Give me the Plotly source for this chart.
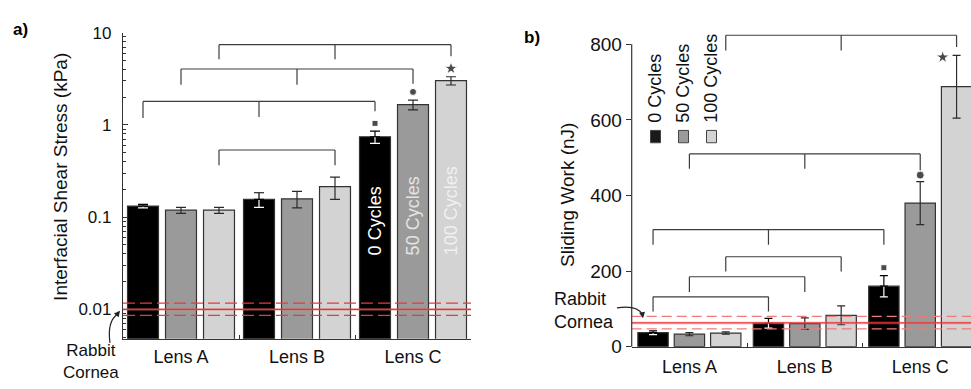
import math
import plotly.graph_objects as go

W, H = 971, 389

# ---------------- data ----------------
categories = ["Lens A", "Lens B", "Lens C"]
series_names = ["0 Cycles", "50 Cycles", "100 Cycles"]

shear_0 = [0.132, 0.156, 0.745]
shear_50 = [0.119, 0.158, 1.66]
shear_100 = [0.119, 0.214, 3.02]
shear_err_0 = [0.006, 0.028, 0.114]
shear_err_50 = [0.009, 0.032, 0.20]
shear_err_100 = [0.009, 0.058, 0.31]

work_0 = [37, 62, 160]
work_50 = [33, 61, 380]
work_100 = [36, 83, 688]
work_err_0 = [5, 13, 28]
work_err_50 = [4, 15, 57]
work_err_100 = [3, 25, 83]

cornea_shear = 0.010
cornea_shear_low = 0.0086
cornea_shear_high = 0.0117
cornea_work = 63
cornea_work_low = 47
cornea_work_high = 80

shear_ticks = [0.01, 0.1, 1, 10]
shear_tick_text = ["0.01", "0.1", "1", "10"]
work_ticks = [0, 200, 400, 600, 800]

# significance brackets: (series index, groups joined, bracket top, leg ends)
shear_brackets = [
    (0, [0, 1, 2], 1.80, [1.19, 1.22, 1.41]),
    (1, [0, 1, 2], 4.04, [2.73, 2.73, 2.79]),
    (2, [0, 1, 2], 7.41, [5.16, 5.16, 5.54]),
    (2, [0, 1], 0.535, [0.366, 0.366]),
]
work_brackets = [
    (2, [0, 1, 2], 824, [784, 784, 793]),
    (1, [0, 1, 2], 510, [471, 471, 467]),
    (0, [0, 1, 2], 310, [270, 270, 270]),
    (2, [0, 1], 238, [199, 199]),
    (1, [0, 1], 185, [145, 145]),
    (0, [0, 1], 132, [93, 93]),
]
shear_marks_y = [1.04, 2.28, 4.1]
work_marks_y = [209, 454, 766]
mark_symbols = ["square", "circle", "star"]

# ---------------- style ----------------
FONT = "Liberation Sans, Arial, Helvetica, sans-serif"
fills = ["#000000", "#9a9a9a", "#d3d3d3"]
edge = "#333333"
bracket_col = "#3c3c3c"
red = "#e8322f"


def fx(p):
    return p / W


def fy(p):
    return 1 - p / H


# panel geometry (pixels)
A_L, A_R, A_B, A_T = 123, 471, 347.7, 25
B_L, B_R, B_B, B_T = 631.7, 971, 356, 23.3
A_SLOT, A_BW = 0.3276, 0.267
B_SLOT, B_BW = 0.315, 0.263
B_XMAX = 2.44
B_YMAX = 835

shear_vals = [shear_0, shear_50, shear_100]
shear_errs = [shear_err_0, shear_err_50, shear_err_100]
work_vals = [work_0, work_50, work_100]
work_errs = [work_err_0, work_err_50, work_err_100]

fig = go.Figure()


def add_panel(vals, errs, xa, ya, xo, slot, bw, capw):
    for j in range(3):
        fig.add_trace(go.Bar(
            x=categories, y=vals[j], name=series_names[j],
            offset=(j - 1) * slot - bw / 2, width=bw,
            marker=dict(color=fills[j], line=dict(color=edge, width=1.2)),
            error_y=dict(type="data", array=errs[j], visible=True,
                         color="#ffffff" if j == 0 else "#2a2a2a",
                         thickness=1.2, width=capw),
            xaxis=xa, yaxis=ya, showlegend=False, hoverinfo="skip"))
    # upper half of the error bar for the black bars in black
    fig.add_trace(go.Scatter(
        x=[i + (0 - 1) * slot for i in range(3)], y=vals[0], mode="markers",
        marker=dict(size=1, color="rgba(0,0,0,0)"),
        error_y=dict(type="data", symmetric=False, array=errs[0],
                     arrayminus=[0] * 3, color="#000000", thickness=1.2, width=capw),
        xaxis=xo, yaxis=ya, showlegend=False, hoverinfo="skip"))


add_panel(shear_vals, shear_errs, "x", "y", "x3", A_SLOT, A_BW, 5)
add_panel(work_vals, work_errs, "x2", "y2", "x4", B_SLOT, B_BW, 4)

# significance markers
fig.add_trace(go.Scatter(
    x=[2 + (j - 1) * A_SLOT for j in range(3)], y=shear_marks_y, mode="markers",
    marker=dict(symbol=mark_symbols, size=[6, 7, 10], color="#000000"),
    xaxis="x3", yaxis="y", showlegend=False, hoverinfo="skip", cliponaxis=False))
work_mark_dx = [0, 0, -0.12]
fig.add_trace(go.Scatter(
    x=[2 + (j - 1) * B_SLOT + work_mark_dx[j] for j in range(3)], y=work_marks_y,
    mode="markers",
    marker=dict(symbol=mark_symbols, size=[6, 8, 10], color="#000000"),
    xaxis="x4", yaxis="y2", showlegend=False, hoverinfo="skip", cliponaxis=False))

shapes = []


def add_brackets(brackets, slot, xref, yref):
    for j, groups, top, legs in brackets:
        xs = [g + (j - 1) * slot for g in groups]
        shapes.append(dict(type="line", xref=xref, yref=yref, x0=xs[0], x1=xs[-1],
                           y0=top, y1=top, line=dict(color=bracket_col, width=1.2)))
        for xv, lg in zip(xs, legs):
            shapes.append(dict(type="line", xref=xref, yref=yref, x0=xv, x1=xv,
                               y0=top, y1=lg, line=dict(color=bracket_col, width=1.2)))


add_brackets(shear_brackets, A_SLOT, "x3", "y")
add_brackets(work_brackets, B_SLOT, "x4", "y2")

# rabbit cornea reference lines
for xd, yr, c, lo, hi, dcol, dash in [
    ("x domain", "y", cornea_shear, cornea_shear_low, cornea_shear_high, "#e53b3b", "12px,5px"),
    ("x2 domain", "y2", cornea_work, cornea_work_low, cornea_work_high, "#f07a7a", "10px,5px"),
]:
    shapes.append(dict(type="line", xref=xd, yref=yr, x0=0, x1=1, y0=c, y1=c,
                       line=dict(color="rgba(240,110,110,0.3)", width=3), layer="above"))
    shapes.append(dict(type="line", xref=xd, yref=yr, x0=0, x1=1, y0=c, y1=c,
                       line=dict(color=red, width=1.1), layer="above"))
    for v in (lo, hi):
        shapes.append(dict(type="line", xref=xd, yref=yr, x0=0, x1=1, y0=v, y1=v,
                           line=dict(color=dcol, width=1.3, dash=dash), layer="above"))

# panel b y-axis line ending at 800
shapes.append(dict(type="line", xref="x2 domain", yref="y2 domain", x0=0, x1=0,
                   y0=0, y1=work_ticks[-1] / B_YMAX, line=dict(color=edge, width=1.2)))

# legend squares in panel b
LEG_X0, LEG_STEP = 655.5, 28
for j in range(3):
    cx = LEG_X0 + j * LEG_STEP
    shapes.append(dict(type="rect", xref="paper", yref="paper",
                       x0=fx(cx - 5), x1=fx(cx + 5), y0=fy(141), y1=fy(128),
                       fillcolor=fills[j] if j else "#1a1a1a",
                       line=dict(color="#444444", width=1)))

# curved arrows for "Rabbit Cornea"
def curve(p0, c, p1):
    return ("M {:.5f},{:.5f} Q {:.5f},{:.5f} {:.5f},{:.5f}".format(
        fx(p0[0]), fy(p0[1]), fx(c[0]), fy(c[1]), fx(p1[0]), fy(p1[1])))


shapes.append(dict(type="path", xref="paper", yref="paper",
                   path=curve((110, 352), (107, 330), (117, 322)),
                   line=dict(color="#222222", width=1.2)))
shapes.append(dict(type="path", xref="paper", yref="paper",
                   path=curve((617, 315), (638, 312), (642, 322)),
                   line=dict(color="#222222", width=1.2)))

annotations = []
# arrow heads
annotations.append(dict(xref="paper", yref="paper", x=fx(120), y=fy(318), text="",
                        showarrow=True, ax=-4, ay=5, arrowhead=2, arrowsize=1,
                        arrowwidth=1.2, arrowcolor="#222222", standoff=0))
annotations.append(dict(xref="paper", yref="paper", x=fx(643), y=fy(326), text="",
                        showarrow=True, ax=-1, ay=-6, arrowhead=2, arrowsize=1,
                        arrowwidth=1.2, arrowcolor="#222222", standoff=0))

# rabbit cornea labels
annotations += [
    dict(xref="paper", yref="paper", x=fx(91), y=fy(372), text="Rabbit<br>Cornea",
         showarrow=False, align="center",
         font=dict(size=17, color="#111111", family=FONT), xanchor="center", yanchor="middle"),
    dict(xref="paper", yref="paper", x=fx(552), y=fy(318), text="Rabbit<br>Cornea",
         showarrow=False, align="left",
         font=dict(size=18, color="#111111", family=FONT), xanchor="left", yanchor="middle"),
]

# axis titles
annotations += [
    dict(xref="paper", yref="paper", x=fx(61), y=fy(177), text="Interfacial Shear Stress (kPa)",
         textangle=-90, showarrow=False, font=dict(size=19, color="#111111", family=FONT),
         xanchor="center", yanchor="middle"),
    dict(xref="paper", yref="paper", x=fx(568), y=fy(196), text="Sliding Work (nJ)",
         textangle=-90, showarrow=False, font=dict(size=19, color="#111111", family=FONT),
         xanchor="center", yanchor="middle"),
]

# panel labels
annotations += [
    dict(xref="paper", yref="paper", x=fx(11), y=fy(22), text="<b>a)</b>", showarrow=False,
         font=dict(size=17, color="#000000", family=FONT), xanchor="left", yanchor="middle"),
    dict(xref="paper", yref="paper", x=fx(522), y=fy(30), text="<b>b)</b>", showarrow=False,
         font=dict(size=17, color="#000000", family=FONT), xanchor="left", yanchor="middle"),
]

# series labels inside Lens C bars (panel a)
in_bar_colors = ["#ffffff", "#e4e4e4", "#f0f0f0"]
for j in range(3):
    annotations.append(dict(xref="x3", yref="y", x=2 + (j - 1) * A_SLOT,
                            y=math.log10(0.0362), text=series_names[j], textangle=-90,
                            showarrow=False, xanchor="center", yanchor="bottom",
                            font=dict(size=18, color=in_bar_colors[j], family=FONT)))

# legend text in panel b
for j in range(3):
    annotations.append(dict(xref="paper", yref="paper", x=fx(LEG_X0 + j * LEG_STEP),
                            y=fy(122), text=series_names[j], textangle=-90,
                            showarrow=False, xanchor="center", yanchor="bottom",
                            font=dict(size=18, color="#111111", family=FONT)))

minor_vals = [m * 10 ** e for e in (-3, -2, -1, 0) for m in range(2, 10)
              if 0.0048 < m * 10 ** e < 10]

axis_common = dict(linecolor=edge, linewidth=1.2, tickcolor=edge, showgrid=False,
                   zeroline=False)

fig.update_layout(
    width=W, height=H, margin=dict(l=0, r=0, t=0, b=0),
    paper_bgcolor="white", plot_bgcolor="white", barmode="overlay",
    showlegend=False, font=dict(family=FONT, color="#111111"),
    xaxis=dict(domain=[fx(A_L), fx(A_R)], anchor="y", type="category",
               categoryorder="array", categoryarray=categories, range=[-0.5, 2.5],
               showline=True, ticks="inside", tickson="boundaries", ticklen=4,
               tickfont=dict(size=18), ticklabelstandoff=1, **axis_common),
    yaxis=dict(domain=[fy(A_B), fy(A_T)], anchor="x", type="log",
               range=[math.log10(0.0048), 1], tickvals=shear_ticks, ticktext=shear_tick_text,
               showline=True, ticks="inside", ticklen=5, tickfont=dict(size=17),
               ticklabelstandoff=7,
               minor=dict(tickvals=minor_vals, ticks="inside", ticklen=3, tickcolor=edge,
                          showgrid=False),
               **axis_common),
    xaxis3=dict(overlaying="x", anchor="y", range=[-0.5, 2.5], visible=False,
                domain=[fx(A_L), fx(A_R)]),
    xaxis2=dict(domain=[fx(B_L), fx(B_R)], anchor="y2", type="category",
                categoryorder="array", categoryarray=categories, range=[-0.5, B_XMAX],
                showline=True, ticks="inside", tickson="boundaries", ticklen=4,
                tickfont=dict(size=18), ticklabelstandoff=4, **axis_common),
    yaxis2=dict(domain=[fy(B_B), fy(B_T)], anchor="x2", range=[0, B_YMAX],
                tickvals=work_ticks, showline=False, ticks="outside", ticklen=5,
                tickfont=dict(size=19), **axis_common),
    xaxis4=dict(overlaying="x2", anchor="y2", range=[-0.5, B_XMAX], visible=False,
                domain=[fx(B_L), fx(B_R)]),
    shapes=shapes,
    annotations=annotations,
)

fig.write_html("out.html")
